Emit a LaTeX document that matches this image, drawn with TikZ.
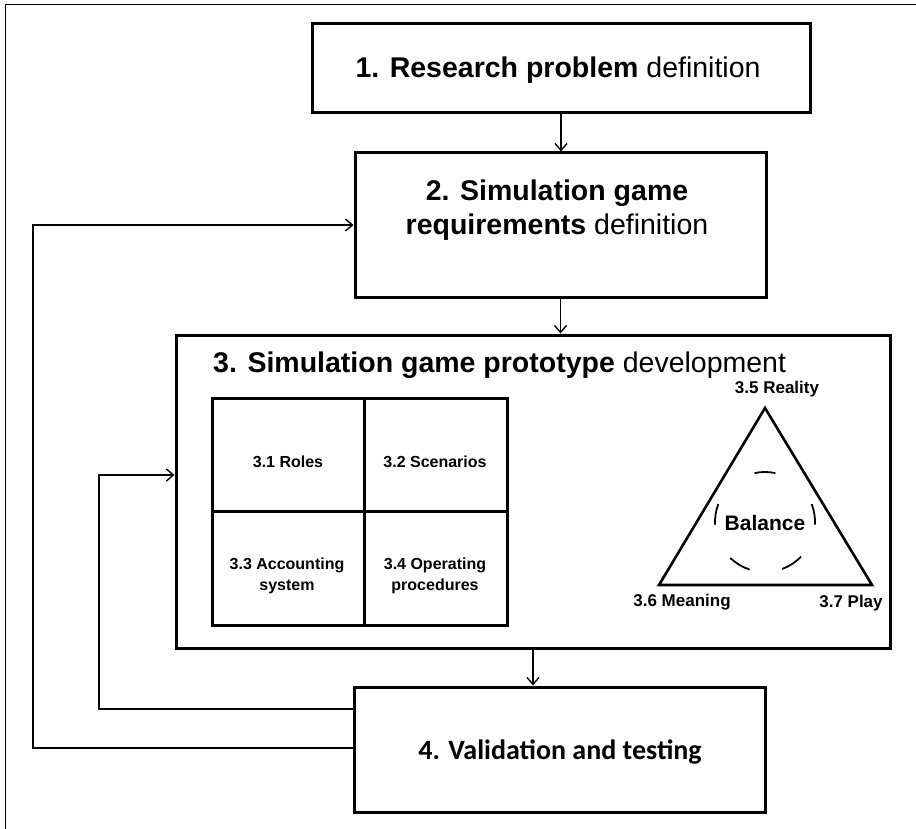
\documentclass[tikz,border=0pt]{standalone}
\usepackage{fontspec}
\setmainfont{Liberation Sans}
\newfontfamily\calibrifont{Carlito}
\usetikzlibrary{arrows.meta}
\begin{document}
\begin{tikzpicture}[x=1pt,y=-1pt,
  box/.style={draw,line width=3pt,rectangle,inner sep=0pt},
  cell/.style={draw,line width=3pt,rectangle,inner sep=0pt,minimum height=113.5pt},
  conn/.style={line width=1.4pt,-{Straight Barb[length=7pt,width=12pt]}},
  big/.style={font=\fontsize{28.5}{34}\selectfont,align=center,inner sep=0pt},
  small/.style={font=\fontsize{16}{21}\selectfont\bfseries,align=center,inner sep=0pt},
  corner/.style={font=\fontsize{17}{20}\selectfont\bfseries,inner sep=0pt},
]
\useasboundingbox (0,0) rectangle (916,829);
% outer frame
\draw[line width=1pt] (5,829) -- (5,5) -- (916,5);

% main boxes
\node[box,minimum width=498pt,minimum height=89pt] (b1) at (561,68.5) {};
\node[box,minimum width=411pt,minimum height=144pt] (b2) at (560.5,225) {};
\node[box,minimum width=714pt,minimum height=313pt] (b3) at (533,491.5) {};
\node[box,minimum width=411pt,minimum height=125pt] (b4) at (559.5,749.5) {};

% box texts
\node[big] (t1) at (558,70) {\textbf{1. Research problem} definition};
\node[big] (t2) at (557,210) {\textbf{2. Simulation game}\\\textbf{requirements} definition};
\node[big,anchor=west] (t3) at (213,365) {\textbf{3. Simulation game prototype} development};
\node[big,font=\calibrifont\bfseries\fontsize{28}{34}\selectfont] (t4) at (560,752) {4. Validation and testing};

% grid of sub-components
\node[cell,minimum width=152pt] (c1) at (288,455) {};
\node[cell,minimum width=143pt] (c2) at (435.5,455) {};
\node[cell,minimum width=152pt] (c3) at (288,568.5) {};
\node[cell,minimum width=143pt] (c4) at (435.5,568.5) {};
\node[small] (c1t) at (288,462) {3.1 Roles};
\node[small] (c2t) at (435,462) {3.2 Scenarios};
\node[small] (c3t) at (287,576) {3.3 Accounting\\system};
\node[small] (c4t) at (435,576) {3.4 Operating\\procedures};

% balance triangle
\coordinate (ta) at (765,408);
\coordinate (tr) at (872,585);
\coordinate (tl) at (659,585);
\draw[line width=2.6pt,line join=miter] (ta) -- (tr) -- (tl) -- cycle;
\node[corner] (l5) at (777,389) {3.5 Reality};
\node[corner] (l6) at (682,602) {3.6 Meaning};
\node[corner] (l7) at (851,603) {3.7 Play};
\node[font=\fontsize{21}{24}\selectfont\bfseries,inner sep=0pt] (bal) at (765,523) {Balance};
\coordinate (bc) at (765,522);
\foreach \s/\e in {-102/-78,-183/-159,-252/-226,-316/-290,-381/-357}
  \draw[line width=1.8pt] (bc) ++(\s:50) arc[start angle=\s,end angle=\e,radius=50];

% forward connectors
\draw[conn] (b1.south) -- (b1.south |- b2.north);
\draw[conn] (b2.south) -- (b2.south |- b3.north);
\draw[conn] (b3.south) -- (b3.south |- b4.north);

% feedback loops
\coordinate (lo) at (33,748);
\coordinate (li) at (99,709);
\coordinate (lt) at (99,475);
\draw[conn] (b4.west |- lo) -- (lo) |- (b2.west);
\draw[conn] (b4.west |- li) -- (li) -- (lt) -- (b3.west |- lt);
\end{tikzpicture}
\end{document}
